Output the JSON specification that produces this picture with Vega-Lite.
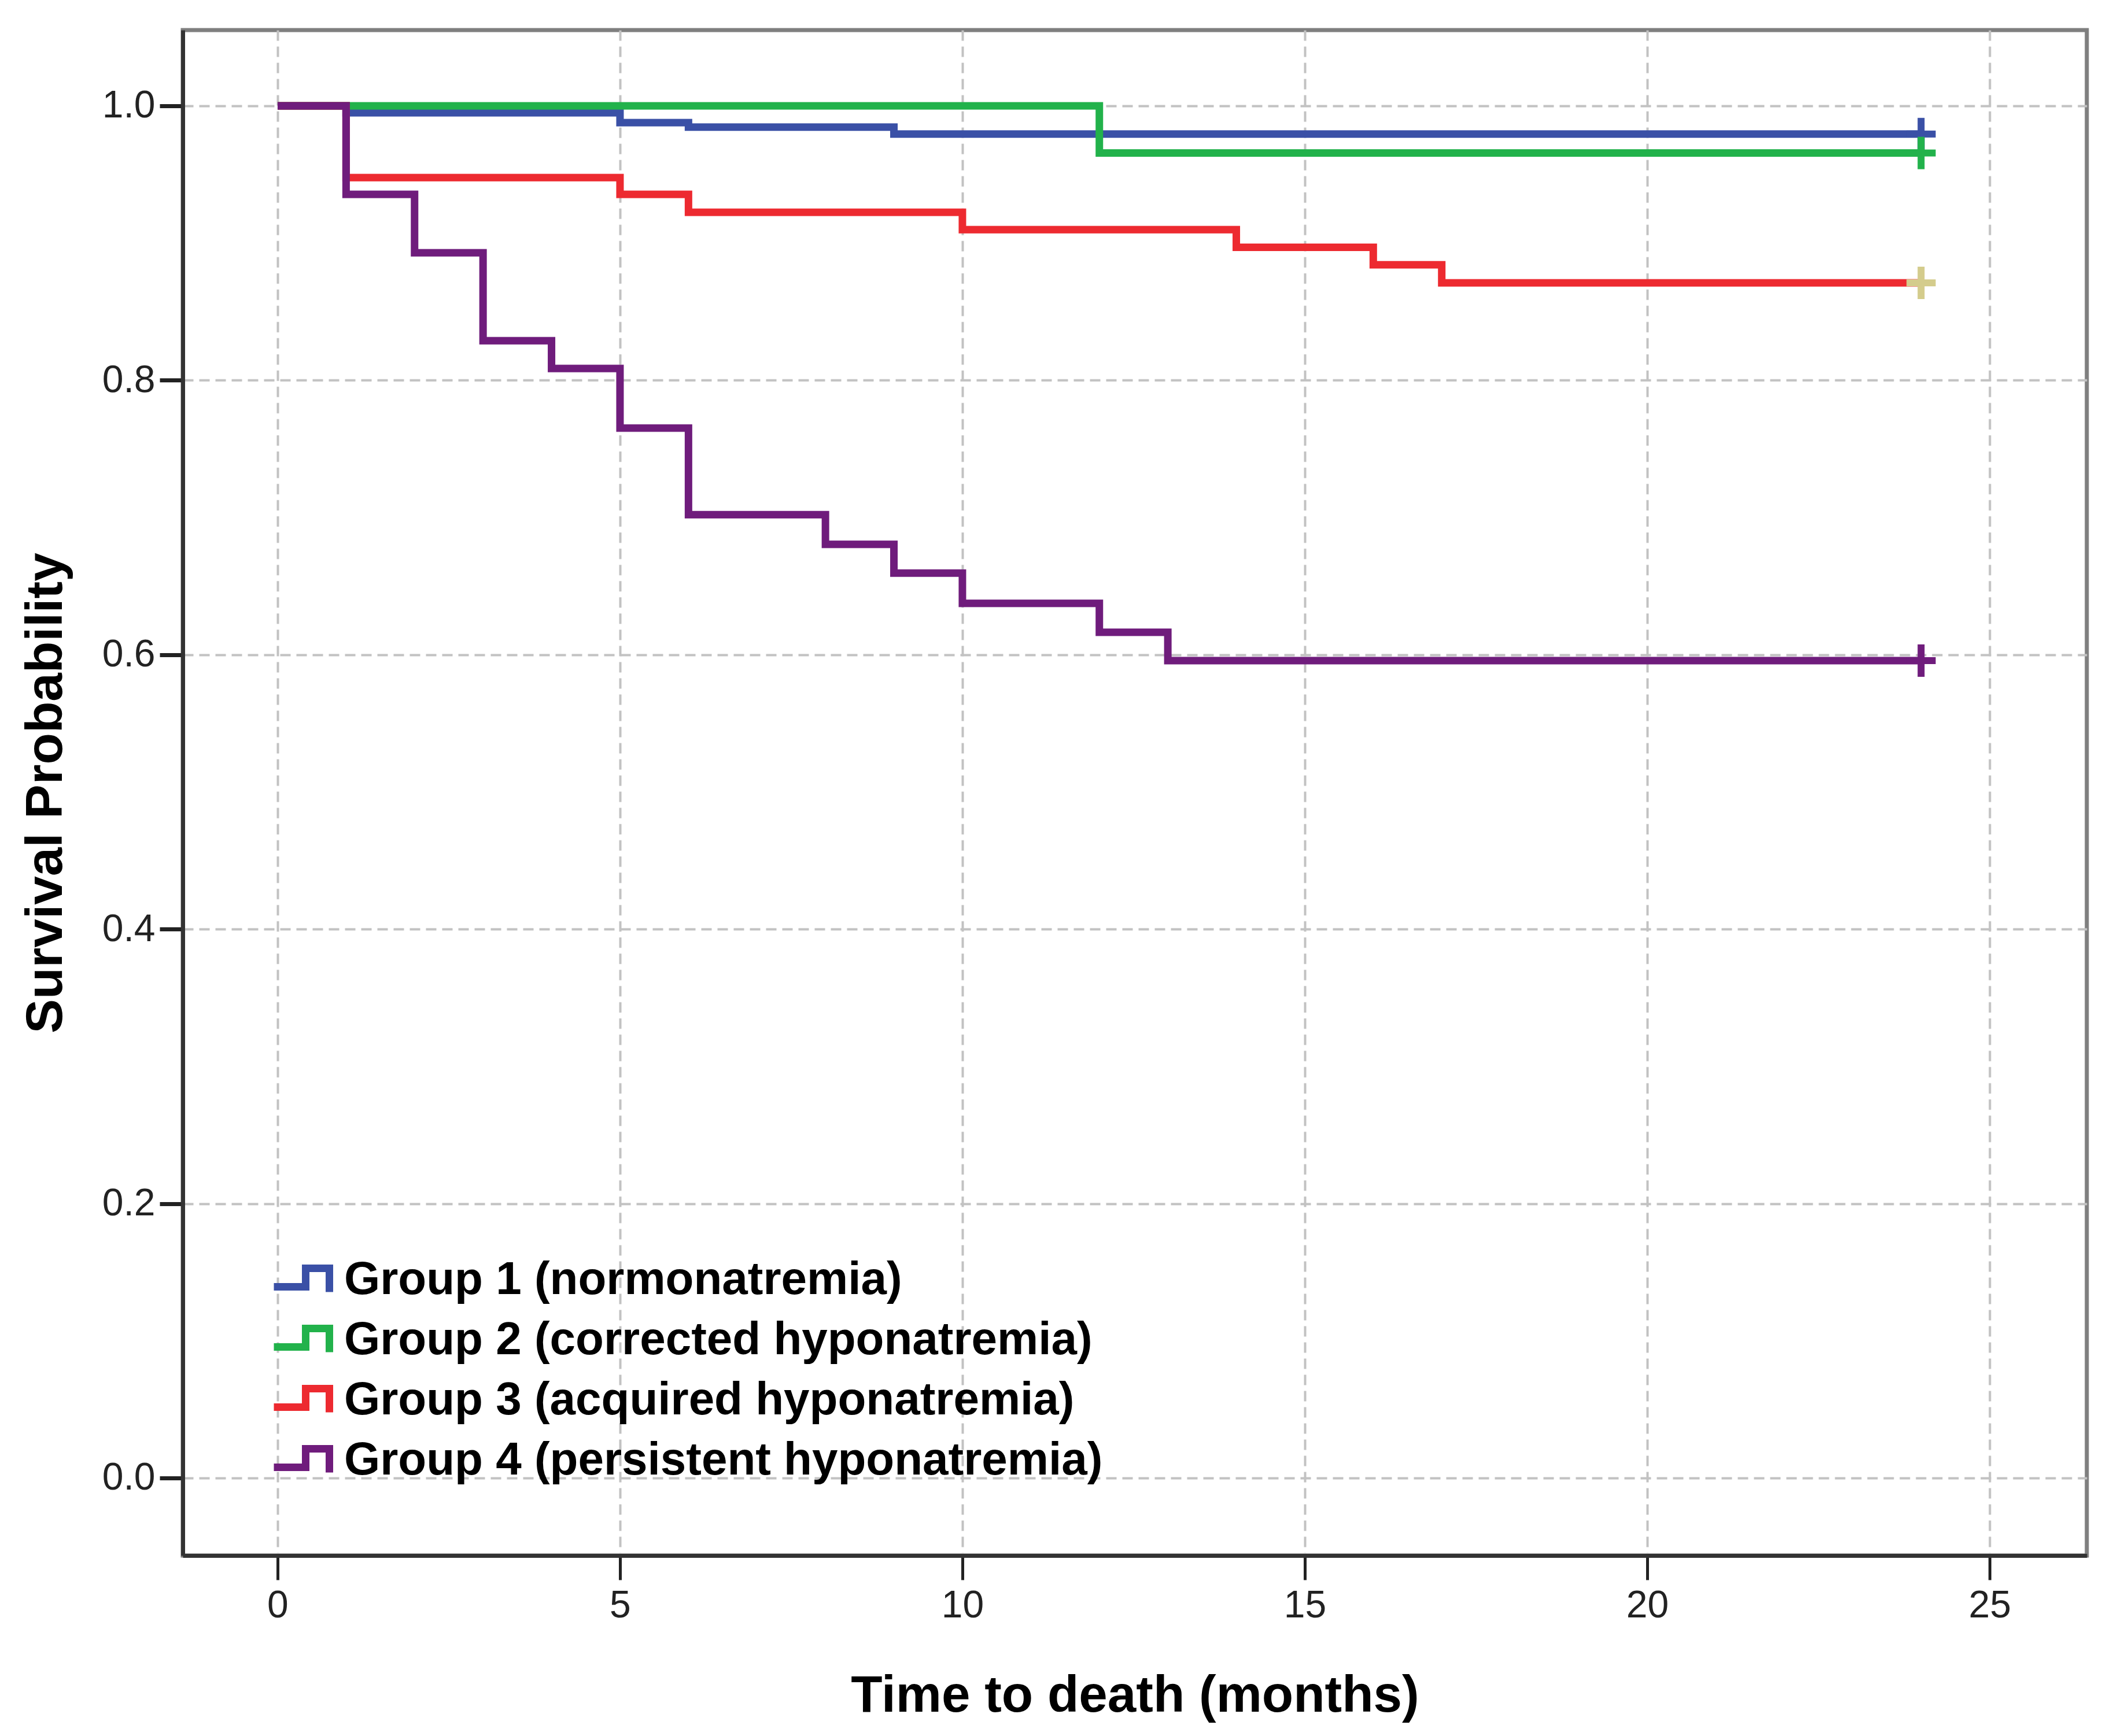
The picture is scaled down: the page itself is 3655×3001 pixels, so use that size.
{
  "$schema": "https://vega.github.io/schema/vega-lite/v6.json",
  "autosize": {"type": "none"},
  "padding": {"left": 316, "top": 52, "right": 47, "bottom": 312},
  "width": 3292,
  "height": 2637,
  "background": "white",
  "config": {
    "font": "Liberation Sans",
    "view": {"stroke": "#7f7f7f", "strokeWidth": 7},
    "axis": {
      "grid": true,
      "gridColor": "#c2c2c2",
      "gridDash": [18, 10],
      "gridWidth": 4,
      "domainColor": "#333333",
      "domainWidth": 7,
      "tickColor": "#222222",
      "labelFont": "Liberation Sans",
      "labelFontSize": 66,
      "labelColor": "#222222",
      "titleFont": "Liberation Sans",
      "titleFontWeight": "bold",
      "titleFontSize": 89,
      "titleColor": "#000000"
    }
  },
  "layer": [
    {
      "data": {
        "values": [
          {"group": "Group 1 (normonatremia)", "time": 0, "surv": 1.0},
          {"group": "Group 1 (normonatremia)", "time": 1, "surv": 0.9949},
          {"group": "Group 1 (normonatremia)", "time": 5, "surv": 0.9878},
          {"group": "Group 1 (normonatremia)", "time": 6, "surv": 0.9845},
          {"group": "Group 1 (normonatremia)", "time": 9, "surv": 0.9794},
          {"group": "Group 1 (normonatremia)", "time": 24, "surv": 0.9794},
          {"group": "Group 2 (corrected hyponatremia)", "time": 0, "surv": 1.0},
          {"group": "Group 2 (corrected hyponatremia)", "time": 12, "surv": 0.9656},
          {"group": "Group 2 (corrected hyponatremia)", "time": 24, "surv": 0.9656},
          {"group": "Group 3 (acquired hyponatremia)", "time": 0, "surv": 1.0},
          {"group": "Group 3 (acquired hyponatremia)", "time": 1, "surv": 0.9477},
          {"group": "Group 3 (acquired hyponatremia)", "time": 5, "surv": 0.9355},
          {"group": "Group 3 (acquired hyponatremia)", "time": 6, "surv": 0.9224},
          {"group": "Group 3 (acquired hyponatremia)", "time": 10, "surv": 0.9098},
          {"group": "Group 3 (acquired hyponatremia)", "time": 14, "surv": 0.8969},
          {"group": "Group 3 (acquired hyponatremia)", "time": 16, "surv": 0.8841},
          {"group": "Group 3 (acquired hyponatremia)", "time": 17, "surv": 0.871},
          {"group": "Group 3 (acquired hyponatremia)", "time": 24, "surv": 0.871},
          {"group": "Group 4 (persistent hyponatremia)", "time": 0, "surv": 1.0},
          {"group": "Group 4 (persistent hyponatremia)", "time": 1, "surv": 0.9355},
          {"group": "Group 4 (persistent hyponatremia)", "time": 2, "surv": 0.8929},
          {"group": "Group 4 (persistent hyponatremia)", "time": 3, "surv": 0.8288},
          {"group": "Group 4 (persistent hyponatremia)", "time": 4, "surv": 0.8086},
          {"group": "Group 4 (persistent hyponatremia)", "time": 5, "surv": 0.7652},
          {"group": "Group 4 (persistent hyponatremia)", "time": 6, "surv": 0.702},
          {"group": "Group 4 (persistent hyponatremia)", "time": 8, "surv": 0.6804},
          {"group": "Group 4 (persistent hyponatremia)", "time": 9, "surv": 0.6594},
          {"group": "Group 4 (persistent hyponatremia)", "time": 10, "surv": 0.6374},
          {"group": "Group 4 (persistent hyponatremia)", "time": 12, "surv": 0.6163},
          {"group": "Group 4 (persistent hyponatremia)", "time": 13, "surv": 0.5957},
          {"group": "Group 4 (persistent hyponatremia)", "time": 24, "surv": 0.5957}
        ]
      },
      "mark": {"type": "line", "interpolate": "step-after", "strokeWidth": 13},
      "encoding": {
        "x": {
          "field": "time", "type": "quantitative",
          "scale": {"domain": [-1.385, 26.42], "nice": false, "zero": false},
          "axis": {
            "values": [0, 5, 10, 15, 20, 25],
            "format": "d",
            "title": "Time to death (months)",
            "tickSize": 42, "tickWidth": 5,
            "labelPadding": 12,
            "titlePadding": 80
          }
        },
        "y": {
          "field": "surv", "type": "quantitative",
          "scale": {"domain": [-0.0565, 1.0552], "nice": false, "zero": false},
          "axis": {
            "values": [0, 0.2, 0.4, 0.6, 0.8, 1.0],
            "format": ".1f",
            "title": "Survival Probability",
            "tickSize": 40, "tickWidth": 7,
            "labelPadding": 8,
            "titlePadding": 51
          }
        },
        "color": {
          "field": "group", "type": "nominal",
          "scale": {
            "domain": ["Group 1 (normonatremia)", "Group 2 (corrected hyponatremia)", "Group 3 (acquired hyponatremia)", "Group 4 (persistent hyponatremia)"],
            "range": ["#3a50a6", "#22b24b", "#ed2a30", "#6f1c7c"]
          },
          "legend": {
            "orient": "none",
            "legendX": 151,
            "legendY": 2104,
            "title": null,
            "padding": 0,
            "symbolType": "M-1,0.24H0.1V-0.4H0.92V0.42",
            "symbolSize": 10000,
            "symbolStrokeWidth": 13,
            "symbolOpacity": 1,
            "labelFont": "Liberation Sans",
            "labelFontWeight": "bold",
            "labelFontSize": 80,
            "labelColor": "#000000",
            "labelLimit": 3000,
            "labelOffset": 15,
            "rowPadding": -2,
            "encode": {"symbols": {"update": {"fill": {"value": "transparent"}}}}
          }
        }
      }
    },
    {
      "data": {
        "values": [
          {"group": "Group 1 (normonatremia)", "time": 24, "surv": 0.9794},
          {"group": "Group 2 (corrected hyponatremia)", "time": 24, "surv": 0.9656},
          {"group": "Group 3 (acquired hyponatremia)", "time": 24, "surv": 0.871},
          {"group": "Group 4 (persistent hyponatremia)", "time": 24, "surv": 0.5957}
        ]
      },
      "mark": {"type": "point", "shape": "M-0.9,0H0.9M0,-1V1", "filled": false, "strokeWidth": 12, "size": 3136, "opacity": 1},
      "encoding": {
        "x": {"field": "time", "type": "quantitative"},
        "y": {"field": "surv", "type": "quantitative"},
        "color": {
          "field": "group", "type": "nominal",
          "scale": {
            "domain": ["Group 1 (normonatremia)", "Group 2 (corrected hyponatremia)", "Group 3 (acquired hyponatremia)", "Group 4 (persistent hyponatremia)"],
            "range": ["#3a50a6", "#22b24b", "#d4cc8c", "#6f1c7c"]
          },
          "legend": null
        }
      }
    }
  ],
  "resolve": {"scale": {"color": "independent"}}
}
